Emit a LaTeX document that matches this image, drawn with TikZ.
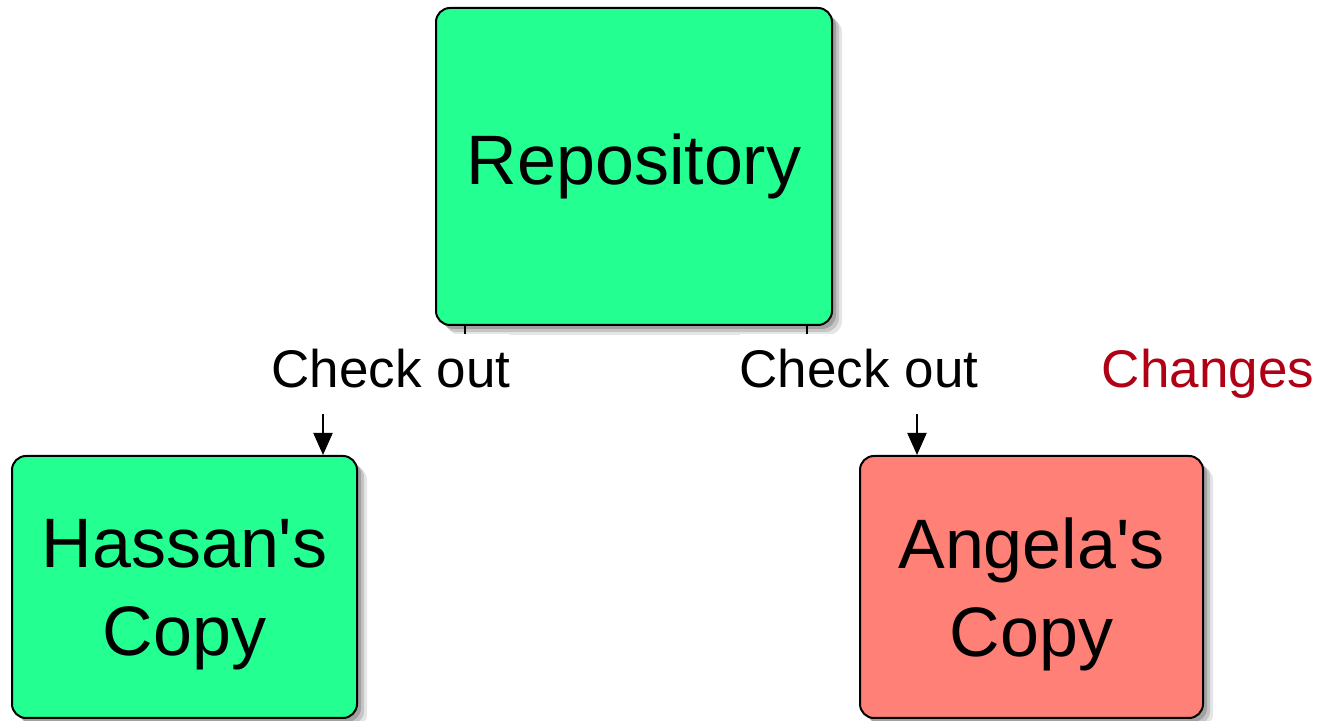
\documentclass[tikz,border=0pt]{standalone}
\usepackage{fontspec}
\setmainfont{Liberation Sans}[Ligatures=TeXOff]
\usetikzlibrary{shadows,arrows.meta,calc}

\definecolor{boxgreen}{RGB}{36,255,145}
\definecolor{boxred}{RGB}{255,128,118}
\definecolor{changered}{RGB}{176,0,22}

\tikzset{
  box/.style={draw=black, line width=1pt, rounded corners=7pt, inner sep=0pt,
    align=center, font=\fontsize{35}{44}\selectfont,
    drop shadow={shadow xshift=5pt, shadow yshift=-5pt, opacity=.10, fill=black},
    drop shadow={shadow xshift=3.5pt, shadow yshift=-3.5pt, opacity=.14, fill=black},
    drop shadow={shadow xshift=2pt, shadow yshift=-2pt, opacity=.18, fill=black}},
  conn/.style={line width=1pt, -{Triangle[length=11pt, width=9.5pt]}},
  lbl/.style={fill=white, inner sep=0pt, anchor=base,
    text height=27pt, text depth=13pt, font=\fontsize{26.5}{30}\selectfont}
}

\begin{document}
\begin{tikzpicture}[x=0.5pt, y=-0.5pt]
  \useasboundingbox (0,0) rectangle (1319,721);

  % boxes
  \node[box, fill=boxgreen, minimum width=198pt, minimum height=158.5pt]
    (repo) at (634,166.5) {Repository};
  \node[box, fill=boxgreen, minimum width=172.5pt, minimum height=131pt, text depth=0pt]
    (hassan) at (184.5,587) {Hassan's\\Copy};
  \node[box, fill=boxred, minimum width=171.5pt, minimum height=131pt, text depth=0pt]
    (angela) at (1031.5,587) {Angela's\\Copy};

  % connector ends
  \coordinate (ls) at ($(repo.south west)+(30,0)$);
  \coordinate (rs) at ($(repo.south east)+(-26,0)$);
  \coordinate (le) at ($(hassan.north east)+(-35,0)$);
  \coordinate (re) at ($(angela.north west)+(58,0)$);

  % check-out connectors
  \draw[conn] (ls) -- ++(0,53) -| (le);
  \draw[conn] (rs) -- ++(0,53) -| (re);

  % labels
  \node[lbl] (lco) at (391,388) {Check out};
  \node[lbl] (rco) at (859,388) {Check out};
  \node[lbl, text=changered] (chg) at (1208,388) {Changes};
\end{tikzpicture}
\end{document}
